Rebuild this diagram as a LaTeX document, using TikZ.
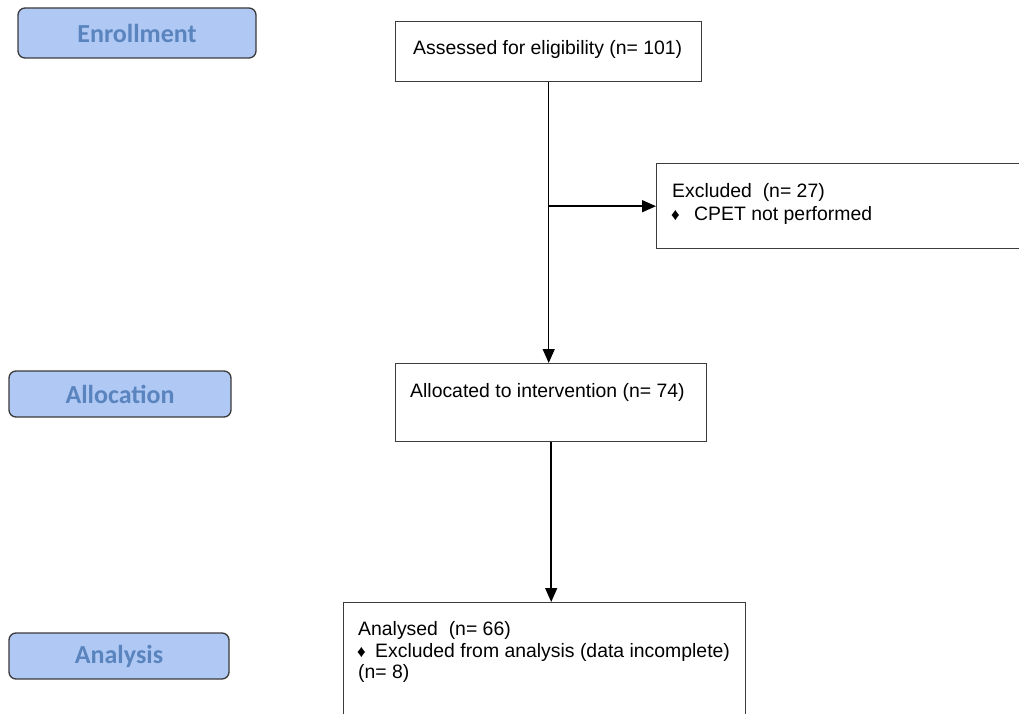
\documentclass[tikz,border=0pt]{standalone}
\usepackage{fontspec}
\setmainfont{Liberation Sans}
\newfontfamily\stagefont{Carlito}
\usetikzlibrary{arrows.meta}
\definecolor{stagefill}{HTML}{B0C8F4}
\definecolor{stagetext}{HTML}{5A84BE}
\definecolor{stageedge}{HTML}{3A3A3A}
\definecolor{boxedge}{HTML}{3C3C3C}
\newcommand{\dmd}{{\fontsize{17}{19}\selectfont ♦}}
\begin{document}
\begin{tikzpicture}[x=1pt,y=-1pt,
  stagebox/.style={draw=stageedge,line width=1.3pt,fill=stagefill,rounded corners=7pt,
    inner sep=0pt,text=stagetext,font=\stagefont\bfseries\fontsize{26}{30}\selectfont},
  flowbox/.style={draw=boxedge,line width=1.4pt,inner sep=0pt,anchor=north west},
  txt/.style={inner sep=0pt,anchor=base west,font=\fontsize{19.4}{23}\selectfont},
  bul/.style={inner sep=0pt,anchor=base west},
  link/.style={line width=1.5pt,draw=black},
  arr/.style={link,-{Triangle[length=14pt,width=12pt]}}]
\useasboundingbox (0,0) rectangle (1019,714);

% stage labels
\node[stagebox,minimum width=238pt,minimum height=50pt] (enrol) at (137,33) {Enrollment};
\node[stagebox,minimum width=222pt,minimum height=46pt] (alloc) at (120,394) {Allocation};
\node[stagebox,minimum width=220pt,minimum height=46pt] (anal) at (119,656) {Analysis};

% flow boxes
\node[flowbox,minimum width=306pt,minimum height=60pt] (assessed) at (395,21) {};
\node[flowbox,minimum width=372pt,minimum height=85pt] (excluded) at (656,163) {};
\node[flowbox,minimum width=311pt,minimum height=78pt] (allocated) at (395,363) {};
\node[flowbox,minimum width=402pt,minimum height=140pt] (analysed) at (343,602) {};

% box texts
\node[txt] (t1) at (413,55) {Assessed for eligibility (n= 101)};
\node[txt] (t2) at (672,197) {Excluded\ \ (n= 27)};
\node[bul] (b2) at (671,220) {\dmd};
\node[txt] (t3) at (694,220) {CPET not performed};
\node[txt] (t4) at (410,397) {Allocated to intervention (n= 74)};
\node[txt] (t5) at (358,635) {Analysed\ \ (n= 66)};
\node[bul] (b5) at (357,657) {\dmd};
\node[txt] (t6) at (375,657) {Excluded from analysis (data incomplete)};
\node[txt] (t7) at (358,678) {(n= 8)};

% connectors
\coordinate (split) at (assessed.south |- excluded.west);
\draw[arr] (assessed.south) -- (assessed.south |- allocated.north);
\draw[arr] (split) -- (excluded.west);
\draw[arr] (allocated.south) -- (allocated.south |- analysed.north);
\end{tikzpicture}
\end{document}
